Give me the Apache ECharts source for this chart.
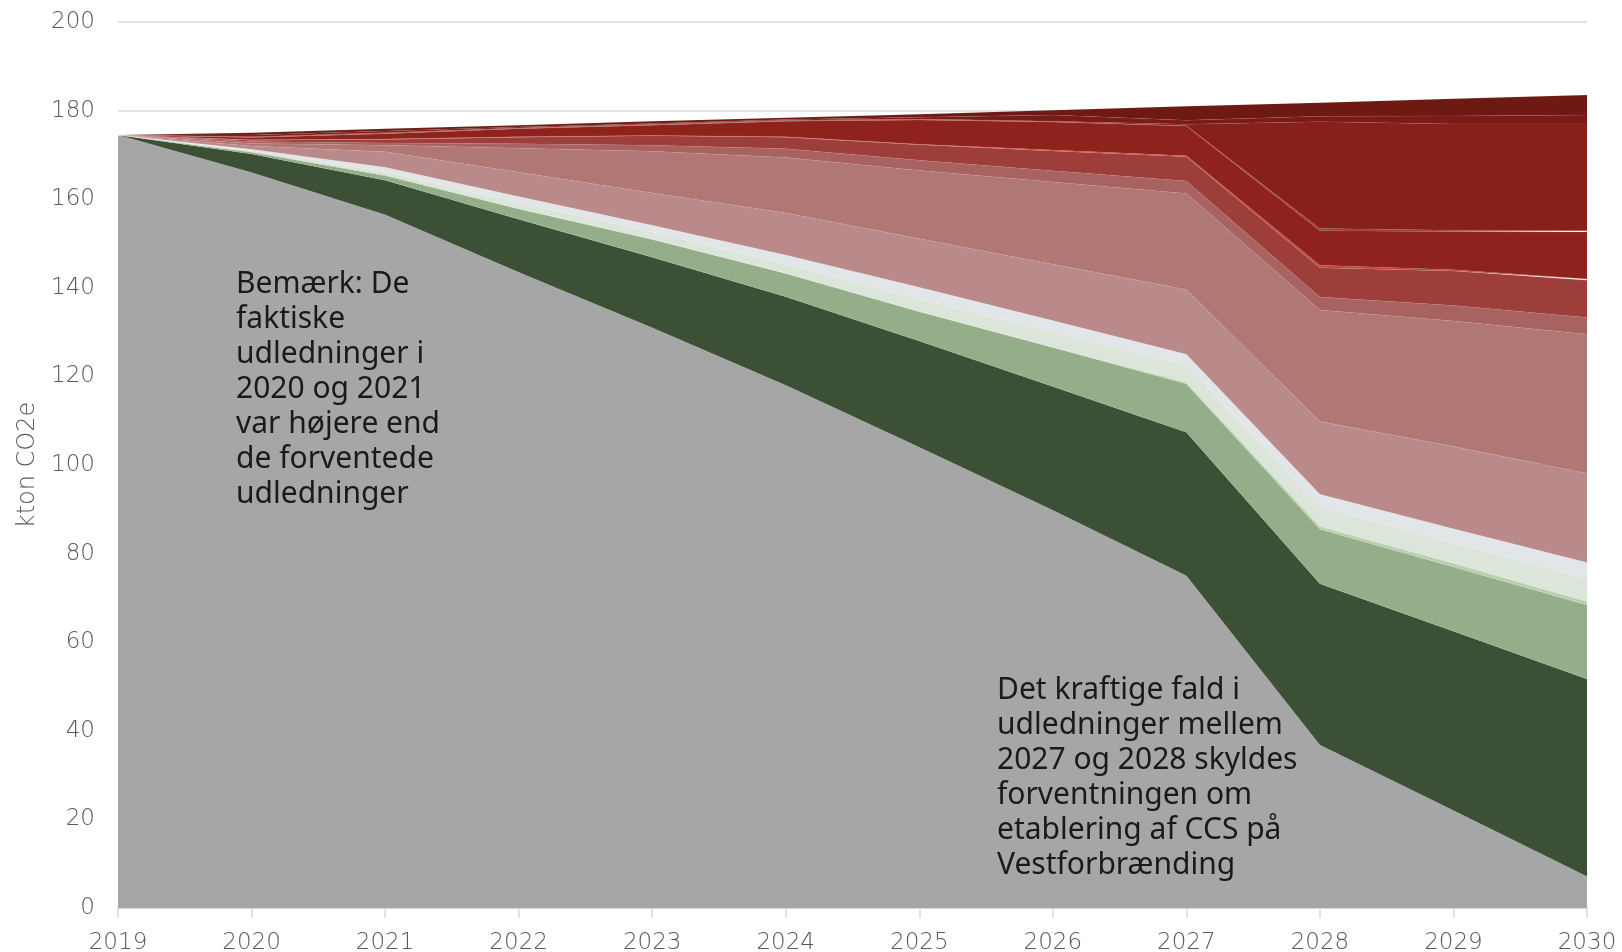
<!DOCTYPE html>
<html>
<head>
<meta charset="utf-8">
<script src="https://cdn.jsdelivr.net/npm/echarts@6/dist/echarts.min.js"></script>
<style>
  html, body { margin: 0; padding: 0; background: #ffffff; }
  #chart { width: 1622px; height: 952px; }
</style>
</head>
<body>
<div id="chart"></div>
<script>
// Years on the x axis
const years = ['2019','2020','2021','2022','2023','2024','2025','2026','2027','2028','2029','2030'];

// Stacked layers, kton CO2e per year (bottom to top)
const remaining    = [174.5, 166.0, 156.5, 143.5, 131.0, 118.0, 104.0, 89.8, 75.0, 36.8, 22.0, 7.1];
const darkGreen    = [0, 4.2, 7.8, 12.0, 15.9, 20.0, 24.0, 27.9, 32.4, 36.4, 40.5, 44.6];
const midGreen     = [0, 0.4, 1.0, 2.3, 4.0, 5.2, 6.6, 8.8, 10.9, 12.3, 14.5, 16.7];
const thinGreen    = [0, 0.1, 0.2, 0.1, 0.1, 0.1, 0.1, 0.1, 0.3, 0.6, 0.8, 0.8];
const paleGreen    = [0, 0.3, 0.7, 1.3, 1.6, 2.0, 2.7, 3.4, 4.0, 4.4, 4.6, 5.2];
const lightGrey    = [0, 0.3, 1.0, 1.4, 1.5, 2.1, 2.7, 2.6, 2.4, 2.9, 3.2, 3.6];
const rosePale     = [0, 0.7, 3.5, 5.5, 7.3, 9.5, 11.0, 12.7, 14.6, 16.4, 18.6, 20.1];
const roseDusty    = [0, 0.6, 1.5, 5.4, 9.4, 12.5, 15.4, 18.6, 21.7, 25.2, 28.3, 31.4];
const roseDeep     = [0, 0.4, 0.5, 1.0, 1.4, 2.0, 2.3, 2.5, 2.8, 2.9, 3.5, 3.8];
const redMid       = [0, 0.3, 0.8, 1.5, 2.1, 2.6, 3.5, 4.5, 5.5, 6.6, 7.8, 8.4];
const redThinA     = [0, 0.1, 0.1, 0.1, 0.1, 0.1, 0.1, 0.2, 0.2, 0.6, 0.3, 0.3];
const redBright    = [0, 0.5, 1.2, 1.8, 2.3, 3.5, 5.5, 6.3, 6.7, 7.8, 8.6, 10.6];
const redThinB     = [0, 0.1, 0.1, 0.1, 0.1, 0.1, 0.1, 0.1, 0.1, 0.5, 0.3, 0.3];
const redCCS       = [0, 0.1, 0.1, 0.1, 0.1, 0.1, 0.1, 0.1, 0.3, 24.1, 24.0, 24.1];
const redDark      = [0, 0.4, 0.4, 0.2, 0.2, 0.2, 0.4, 1.4, 0.9, 1.2, 1.8, 2.0];
const redDarkest   = [0, 0.5, 0.5, 0.4, 0.5, 0.4, 0.7, 1.1, 3.2, 3.1, 3.9, 4.5];

// Y axis ticks
const yTicks = { min: 0, max: 200, interval: 20 };

const layers = [
  { data: remaining,  color: '#A6A6A6' },
  { data: darkGreen,  color: '#3C5036' },
  { data: midGreen,   color: '#93AE89' },
  { data: thinGreen,  color: '#B9CFAE' },
  { data: paleGreen,  color: '#DBE5DA' },
  { data: lightGrey,  color: '#E3E6E8' },
  { data: rosePale,   color: '#B98A89' },
  { data: roseDusty,  color: '#B07775' },
  { data: roseDeep,   color: '#A86361' },
  { data: redMid,     color: '#9D3E3A' },
  { data: redThinA,   color: '#C0483D' },
  { data: redBright,  color: '#8F221C' },
  { data: redThinB,   color: '#9A3A33' },
  { data: redCCS,     color: '#862019' },
  { data: redDark,    color: '#7A1C15' },
  { data: redDarkest, color: '#6E1912' }
];

const tickFont = { fontFamily: 'DejaVu Sans', fontWeight: 200, fontSize: 23, color: '#595959' };
const noteFont = 'Noto Sans';

const chart = echarts.init(document.getElementById('chart'), null, { renderer: 'canvas' });

chart.setOption({
  animation: false,
  backgroundColor: '#ffffff',
  grid: { left: 118, right: 35, top: 22, bottom: 44, containLabel: false, outerBoundsMode: 'none' },
  xAxis: {
    type: 'category',
    data: years,
    boundaryGap: false,
    axisLine: { show: true, lineStyle: { color: '#D9D9D9', width: 2 } },
    axisTick: { show: true, length: 10, lineStyle: { color: '#D9D9D9', width: 1.5 } },
    axisLabel: Object.assign({ margin: 24, interval: 0 }, tickFont),
    splitLine: { show: false }
  },
  yAxis: {
    type: 'value',
    min: yTicks.min,
    max: yTicks.max,
    interval: yTicks.interval,
    name: 'kton CO2e',
    nameLocation: 'middle',
    nameGap: 77,
    nameRotate: 90,
    nameTextStyle: Object.assign({}, tickFont, { fontSize: 24 }),
    axisLine: { show: false },
    axisTick: { show: false },
    axisLabel: Object.assign({ margin: 23 }, tickFont),
    splitLine: { show: true, lineStyle: { color: '#D9D9D9', width: 1.5 } }
  },
  series: layers.map((l, i) => ({
    name: 'layer' + i,
    type: 'line',
    stack: 'total',
    data: l.data,
    symbol: 'none',
    smooth: false,
    z: 2,
    lineStyle: { width: 0.6, color: 'rgba(255,255,255,0.12)' },
    areaStyle: { color: l.color, opacity: 1 },
    itemStyle: { color: l.color },
    emphasis: { disabled: true }
  })),
  graphic: [
    {
      type: 'text',
      left: 236,
      top: 267,
      z: 10,
      style: {
        text: 'Bemærk: De\nfaktiske\nudledninger i\n2020 og 2021\nvar højere end\nde forventede\nudledninger',
        font: '30px "' + noteFont + '"',
        fill: '#1a1a1a',
        lineHeight: 35
      }
    },
    {
      type: 'text',
      left: 997,
      top: 673,
      z: 10,
      style: {
        text: 'Det kraftige fald i\nudledninger mellem\n2027 og 2028 skyldes\nforventningen om\netablering af CCS på\nVestforbrænding',
        font: '30px "' + noteFont + '"',
        fill: '#1a1a1a',
        lineHeight: 35
      }
    }
  ]
});
</script>
</body>
</html>
